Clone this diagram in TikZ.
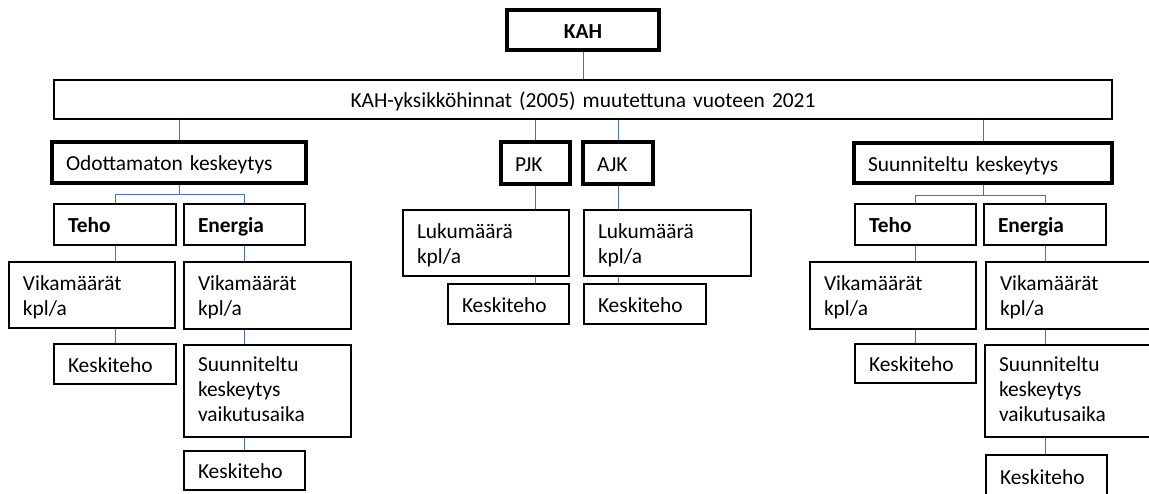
\documentclass[tikz,border=0pt]{standalone}
\usepackage{fontspec}
\setmainfont{Carlito}
\definecolor{linkblue}{RGB}{68,114,196}
\tikzset{
  x=1pt, y=-1pt,
  orgbox/.style={draw=black, line width=1.4pt, inner xsep=14pt, inner ysep=0pt,
    align=left, font=\fontsize{21.4}{25}\selectfont},
  oneline/.style={text height=20pt, text depth=4pt},
  headbox/.style={orgbox, oneline, line width=3.6pt},
  midbox/.style={orgbox, oneline, align=center},
  link/.style={draw=linkblue, line width=1pt}
}
% \orgnode{style}{name}{x1}{y1}{x2}{y2}{text}: a box given by its corners
\newcommand{\orgnode}[7]{%
  \pgfmathsetmacro\orgw{#5-#3}%
  \pgfmathsetmacro\orgh{#6-#4}%
  \pgfmathsetmacro\orgtw{#5-#3-28}%
  \node[#1, minimum width=\orgw pt, minimum height=\orgh pt, text width=\orgtw pt]
    (#2) at ({(#3+#5)/2},{(#4+#6)/2}) {#7};}
% multi-line texts: struts above the first and below the last line
\newcommand{\orglines}[1]{\strut#1\strut}
\newcommand{\orgpair}[1]{\rule{0pt}{22.5pt}#1\strut}
\begin{document}
\begin{tikzpicture}
\useasboundingbox (0,0) rectangle (1149,493);
\clip (0,0) rectangle (1149,493);
\fill[white] (0,0) rectangle (1149,493);

% top levels
\orgnode{headbox,align=center}{kah}{507}{10}{659}{50}{\textbf{KAH}}
\orgnode{midbox}{main}{54}{80}{1112}{119}{KAH-yksikköhinnat (2005) muutettuna vuoteen 2021}

% unexpected interruption branch
\orgnode{headbox}{odo}{52}{142}{306}{183}{Odottamaton keskeytys}
\orgnode{orgbox,oneline}{tehoA}{54}{204}{176}{245}{\textbf{Teho}}
\orgnode{orgbox,oneline}{enerA}{184}{204}{305}{245}{\textbf{Energia}}
\orgnode{orgbox}{vikA}{9}{262}{175}{328}{\orgpair{Vikamäärät\\kpl/a}}
\orgnode{orgbox,oneline}{kesA}{54}{344}{176}{384}{Keskiteho}
\orgnode{orgbox}{vikB}{184}{262}{351}{329}{\orgpair{Vikamäärät\\kpl/a}}
\orgnode{orgbox}{suuB}{184}{345}{351}{437}{\orglines{Suunniteltu\\keskeytys\\vaikutusaika}}
\orgnode{orgbox,oneline}{kesB}{184}{451}{305}{490}{Keskiteho}

% PJK and AJK
\orgnode{headbox}{pjk}{501}{142}{570}{184}{PJK}
\orgnode{headbox}{ajk}{583}{142}{653}{184}{AJK}
\orgnode{orgbox}{lukP}{403}{210}{569}{276}{\orgpair{Lukumäärä\\kpl/a}}
\orgnode{orgbox}{lukA}{584}{210}{751}{276}{\orgpair{Lukumäärä\\kpl/a}}
\orgnode{orgbox,oneline}{kesP}{448}{284}{569}{324}{Keskiteho}
\orgnode{orgbox,oneline}{kesQ}{584}{284}{706}{324}{Keskiteho}

% planned interruption branch
\orgnode{headbox}{suu}{854}{143}{1112}{183}{Suunniteltu keskeytys}
\orgnode{orgbox,oneline}{tehoC}{855}{204}{976}{245}{\textbf{Teho}}
\orgnode{orgbox,oneline}{enerC}{984}{204}{1106}{245}{\textbf{Energia}}
\orgnode{orgbox}{vikC}{810}{262}{976}{329}{\orgpair{Vikamäärät\\kpl/a}}
\orgnode{orgbox,oneline}{kesC}{855}{344}{976}{383}{Keskiteho}
\orgnode{orgbox}{vikD}{986}{262}{1153}{329}{\orgpair{Vikamäärät\\kpl/a}}
\orgnode{orgbox}{suuD}{985}{345}{1152}{437}{\orglines{Suunniteltu\\keskeytys\\vaikutusaika}}
\orgnode{orgbox,oneline}{kesD}{986}{455}{1107}{497}{Keskiteho}

% connectors
\draw[link] (kah.south) -- (main.north);
\draw[link] (odo.north |- main.south) -- (odo.north);
\draw[link] (pjk.north |- main.south) -- (pjk.north);
\draw[link] (ajk.north |- main.south) -- (ajk.north);
\draw[link] (suu.north |- main.south) -- (suu.north);

\draw[link] (odo.south) -- ++(0,10) -| (tehoA.north);
\draw[link] (odo.south) -- ++(0,10) -| (enerA.north);
\draw[link] (tehoA.south) -- (tehoA.south |- vikA.north);
\draw[link] (tehoA.south |- vikA.south) -- (tehoA.south |- kesA.north);
\draw[link] (enerA.south) -- (enerA.south |- vikB.north);
\draw[link] (enerA.south |- vikB.south) -- (enerA.south |- suuB.north);
\draw[link] (enerA.south |- suuB.south) -- (enerA.south |- kesB.north);

\draw[link] (pjk.south) -- (pjk.south |- lukP.north);
\draw[link] (pjk.south |- lukP.south) -- (pjk.south |- kesP.north);
\draw[link] (ajk.south) -- (ajk.south |- lukA.north);
\draw[link] (ajk.south |- lukA.south) -- (ajk.south |- kesQ.north);

\draw[link] (suu.south) -- ++(0,11) -| (tehoC.north);
\draw[link] (suu.south) -- ++(0,11) -| (enerC.north);
\draw[link] (tehoC.south) -- (tehoC.south |- vikC.north);
\draw[link] (tehoC.south |- vikC.south) -- (tehoC.south |- kesC.north);
\draw[link] (enerC.south) -- (enerC.south |- vikD.north);
\draw[link] (enerC.south |- vikD.south) -- (enerC.south |- suuD.north);
\draw[link] (enerC.south |- suuD.south) -- (enerC.south |- kesD.north);
\end{tikzpicture}
\end{document}
